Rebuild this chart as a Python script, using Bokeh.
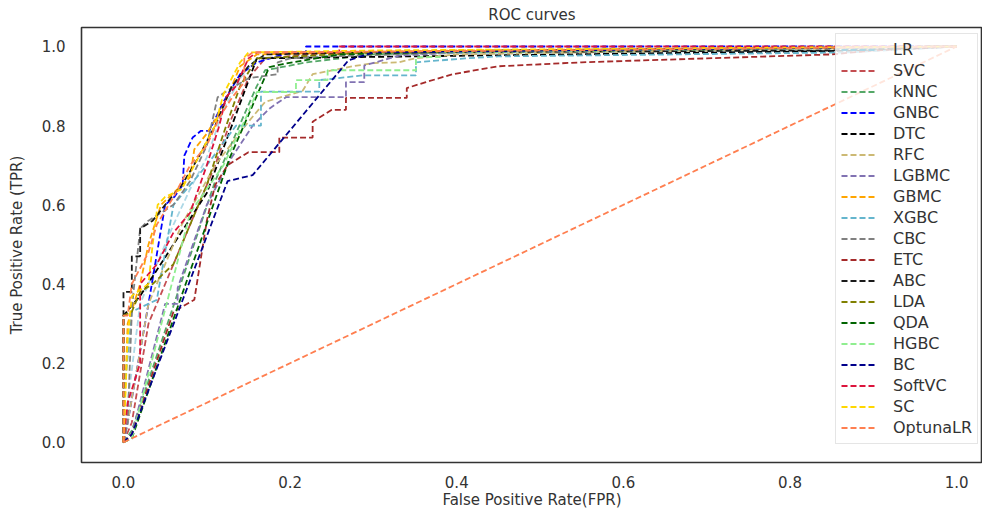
from bokeh.plotting import figure
from bokeh.models import Range1d, FixedTicker, PrintfTickFormatter, Legend, LegendItem
from bokeh.embed import file_html
from bokeh.resources import INLINE

# ---- data ----
models = ["LR", "SVC", "kNNC", "GNBC", "DTC", "RFC", "LGBMC", "GBMC", "XGBC", "CBC",
          "ETC", "ABC", "LDA", "QDA", "HGBC", "BC", "SoftVC", "SC", "OptunaLR"]
colors = ["#add8e6", "#c44e52", "#55a868", "#0000ff", "#000000", "#ccb974", "#8172b2",
          "#ffa500", "#64b5cd", "#808080", "#a52a2a", "#1a1a1a", "#808000", "#006400",
          "#90ee90", "#00008b", "#dc143c", "#ffd700", "#ff7f50"]

lr_fpr = [0, 0.005, 0.02, 0.04, 0.06, 0.08, 0.10, 0.12, 0.14, 0.16, 0.30, 0.50, 0.87, 1]
lr_tpr = [0, 0.10, 0.35, 0.45, 0.55, 0.64, 0.72, 0.84, 0.92, 0.97, 0.98, 0.985, 0.99, 1]

svc_fpr = [0, 0.01, 0.03, 0.05, 0.07, 0.09, 0.11, 0.13, 0.15, 0.17, 0.25, 1]
svc_tpr = [0, 0.05, 0.30, 0.40, 0.50, 0.60, 0.70, 0.82, 0.92, 0.97, 0.985, 1]

knnc_fpr = [0, 0.01, 0.11, 0.16, 0.17, 0.22, 0.30, 0.50, 1]
knnc_tpr = [0, 0.03, 0.66, 0.90, 0.94, 0.96, 0.98, 0.99, 1]

gnbc_fpr = [0, 0.005, 0.03, 0.05, 0.061, 0.071, 0.073, 0.083, 0.093, 0.103, 0.12, 0.14, 0.16, 0.20, 0.219, 0.219, 1]
gnbc_tpr = [0, 0.05, 0.35, 0.60, 0.62, 0.65, 0.724, 0.77, 0.787, 0.787, 0.86, 0.93, 0.96, 0.985, 0.985, 1.0, 1]

dtc_fpr = [0, 0.0, 0.02, 0.10, 0.16, 0.90, 1]
dtc_tpr = [0, 0.32, 0.37, 0.63, 0.97, 0.99, 1]

rfc_fpr = [0, 0.005, 0.03, 0.07, 0.11, 0.15, 0.17, 0.215, 0.227, 0.275, 0.30, 0.33, 0.35, 0.40, 1]
rfc_tpr = [0, 0.05, 0.35, 0.55, 0.70, 0.81, 0.86, 0.888, 0.93, 0.95, 0.958, 0.96, 0.97, 0.98, 1]

lgbmc_fpr = [0, 0.01, 0.05, 0.065, 0.065, 0.10, 0.13, 0.155, 0.175, 0.195, 0.267, 0.267, 0.289, 0.289, 0.331, 0.40, 1]
lgbmc_tpr = [0, 0.02, 0.35, 0.35, 0.39, 0.60, 0.72, 0.80, 0.843, 0.872, 0.872, 0.91, 0.91, 0.952, 0.977, 0.985, 1]

gbmc_fpr = [0, 0.005, 0.02, 0.03, 0.045, 0.06, 0.08, 0.085, 0.10, 0.12, 0.14, 0.16, 0.40, 1]
gbmc_tpr = [0, 0.30, 0.40, 0.50, 0.60, 0.63, 0.67, 0.74, 0.78, 0.85, 0.95, 0.98, 0.99, 1]

xgbc_fpr = [0, 0.0, 0.01, 0.04, 0.06, 0.10, 0.135, 0.165, 0.165, 0.235, 0.235, 0.287, 0.351, 0.351, 0.41, 0.45, 0.87, 1]
xgbc_tpr = [0, 0.10, 0.33, 0.36, 0.60, 0.70, 0.80, 0.80, 0.886, 0.886, 0.915, 0.927, 0.927, 0.96, 0.97, 0.975, 0.985, 1]

cbc_fpr = [0, 0.005, 0.01, 0.012, 0.02, 0.03, 0.06, 0.08, 0.10, 0.113, 0.123, 0.15, 0.185, 0.185, 0.20, 0.25, 0.40, 1]
cbc_tpr = [0, 0.05, 0.33, 0.38, 0.54, 0.56, 0.60, 0.66, 0.75, 0.872, 0.886, 0.92, 0.93, 0.96, 0.97, 0.975, 0.985, 1]

etc_fpr = [0, 0.01, 0.06, 0.085, 0.10, 0.11, 0.125, 0.14, 0.15, 0.187, 0.187, 0.227, 0.227, 0.25, 0.267, 0.267,
           0.34, 0.34, 0.363, 0.395, 0.45, 0.55, 0.70, 0.85, 0.90, 1]
etc_tpr = [0, 0.02, 0.33, 0.36, 0.56, 0.65, 0.70, 0.72, 0.733, 0.733, 0.77, 0.77, 0.81, 0.84, 0.84, 0.87,
           0.87, 0.895, 0.91, 0.93, 0.95, 0.96, 0.97, 0.98, 0.99, 1]

abc_fpr = [0, 0.0, 0.01, 0.01, 0.02, 0.02, 0.035, 0.05, 0.07, 0.09, 0.11, 0.13, 0.15, 0.17, 0.30, 0.85, 1]
abc_tpr = [0, 0.38, 0.38, 0.47, 0.47, 0.54, 0.56, 0.60, 0.65, 0.72, 0.80, 0.90, 0.95, 0.98, 0.985, 0.99, 1]

lda_fpr = [0, 0.0, 0.01, 0.02, 0.035, 0.06, 0.08, 0.10, 0.12, 0.14, 0.16, 0.30, 1]
lda_tpr = [0, 0.32, 0.33, 0.38, 0.40, 0.45, 0.55, 0.65, 0.78, 0.90, 0.97, 0.985, 1]

qda_fpr = [0, 0.01, 0.127, 0.175, 0.19, 0.231, 0.26, 0.45, 1]
qda_tpr = [0, 0.01, 0.716, 0.948, 0.955, 0.97, 0.98, 0.99, 1]

hgbc_fpr = [0, 0.01, 0.08, 0.12, 0.147, 0.16, 0.207, 0.207, 0.245, 0.245, 0.351, 0.351, 0.38, 0.38, 0.60, 1]
hgbc_tpr = [0, 0.01, 0.58, 0.70, 0.82, 0.885, 0.885, 0.915, 0.915, 0.94, 0.94, 0.973, 0.973, 0.985, 0.99, 1]

bc_fpr = [0, 0.01, 0.125, 0.155, 0.27, 0.30, 1]
bc_tpr = [0, 0.02, 0.66, 0.675, 0.965, 0.985, 1]

softvc_fpr = [0, 0.005, 0.02, 0.02, 0.04, 0.06, 0.08, 0.10, 0.115, 0.123, 0.135, 0.15, 0.16, 0.259, 0.259, 1]
softvc_tpr = [0, 0.10, 0.20, 0.40, 0.45, 0.53, 0.58, 0.70, 0.80, 0.872, 0.90, 0.97, 0.985, 0.985, 1.0, 1]

sc_fpr = [0, 0.005, 0.01, 0.03, 0.035, 0.041, 0.05, 0.07, 0.09, 0.11, 0.12, 0.14, 0.15, 0.30, 1]
sc_tpr = [0, 0.26, 0.37, 0.40, 0.50, 0.60, 0.62, 0.64, 0.72, 0.80, 0.88, 0.96, 0.985, 0.99, 1]

optunalr_fpr = [0, 0.0, 0.005, 0.01, 0.03, 0.04, 0.06, 0.08, 0.10, 0.115, 0.13, 0.145, 0.145, 0.155, 0.50, 1]
optunalr_tpr = [0, 0.32, 0.32, 0.40, 0.48, 0.55, 0.62, 0.70, 0.75, 0.82, 0.87, 0.91, 0.97, 0.985, 0.99, 1]

chance_fpr = [0, 1]
chance_tpr = [0, 1]

x_ticks = [0.0, 0.2, 0.4, 0.6, 0.8, 1.0]
y_ticks = [0.0, 0.2, 0.4, 0.6, 0.8, 1.0]

curves = [
    (lr_fpr, lr_tpr), (svc_fpr, svc_tpr), (knnc_fpr, knnc_tpr), (gnbc_fpr, gnbc_tpr),
    (dtc_fpr, dtc_tpr), (rfc_fpr, rfc_tpr), (lgbmc_fpr, lgbmc_tpr), (gbmc_fpr, gbmc_tpr),
    (xgbc_fpr, xgbc_tpr), (cbc_fpr, cbc_tpr), (etc_fpr, etc_tpr), (abc_fpr, abc_tpr),
    (lda_fpr, lda_tpr), (qda_fpr, qda_tpr), (hgbc_fpr, hgbc_tpr), (bc_fpr, bc_tpr),
    (softvc_fpr, softvc_tpr), (sc_fpr, sc_tpr), (optunalr_fpr, optunalr_tpr),
]

FONT = "DejaVu Sans"
TXT = "#333333"

p = figure(width=982, height=511, output_backend="svg", toolbar_location=None,
           x_range=Range1d(-0.0504, 1.031), y_range=Range1d(-0.051, 1.048),
           min_border_left=81, min_border_right=0, min_border_top=0, min_border_bottom=40,
           title="ROC curves")
p.title.align = "center"
p.title.text_font = FONT
p.title.text_font_size = "15px"
p.title.text_font_style = "normal"
p.title.text_color = TXT
p.title.standoff = 7

p.xgrid.visible = False
p.ygrid.visible = False
p.outline_line_color = "#333333"
p.outline_line_width = 1.6

for ax in (p.xaxis[0], p.yaxis[0]):
    ax.axis_line_color = None
    ax.major_tick_line_color = None
    ax.minor_tick_line_color = None
    ax.major_tick_out = 0
    ax.major_tick_in = 0
    ax.minor_tick_out = 0
    ax.major_label_text_font = FONT
    ax.major_label_text_font_size = "15px"
    ax.major_label_text_color = TXT
    ax.axis_label_text_font = FONT
    ax.axis_label_text_font_size = "15px"
    ax.axis_label_text_font_style = "normal"
    ax.axis_label_text_color = TXT
    ax.formatter = PrintfTickFormatter(format="%.1f")

p.xaxis.ticker = FixedTicker(ticks=x_ticks)
p.yaxis.ticker = FixedTicker(ticks=y_ticks)
p.xaxis.axis_label = "False Positive Rate(FPR)"
p.yaxis.axis_label = "True Positive Rate (TPR)"
p.xaxis.major_label_standoff = 13
p.xaxis.axis_label_standoff = 0
p.yaxis.major_label_standoff = 16
p.yaxis.axis_label_standoff = 13

items = []
for name, col, (fx, ty) in zip(models, colors, curves):
    r = p.line(fx, ty, line_color=col, line_width=1.8, line_dash="6 3")
    items.append(LegendItem(label=name, renderers=[r]))

p.line(chance_fpr, chance_tpr, line_color="#ff7f50", line_width=1.8, line_dash="6 3")

legend = Legend(items=items, location=(754, 18))
legend.label_text_font = FONT
legend.label_text_font_size = "16px"
legend.label_text_color = TXT
legend.glyph_width = 35
legend.glyph_height = 21
legend.label_height = 21
legend.label_standoff = 17
legend.spacing = 0
legend.padding = 5
legend.margin = 0
legend.border_line_color = "#cccccc"
legend.border_line_width = 1
legend.background_fill_alpha = 0.8
p.add_layout(legend, "center")

open("out.html", "w").write(file_html(p, INLINE))
